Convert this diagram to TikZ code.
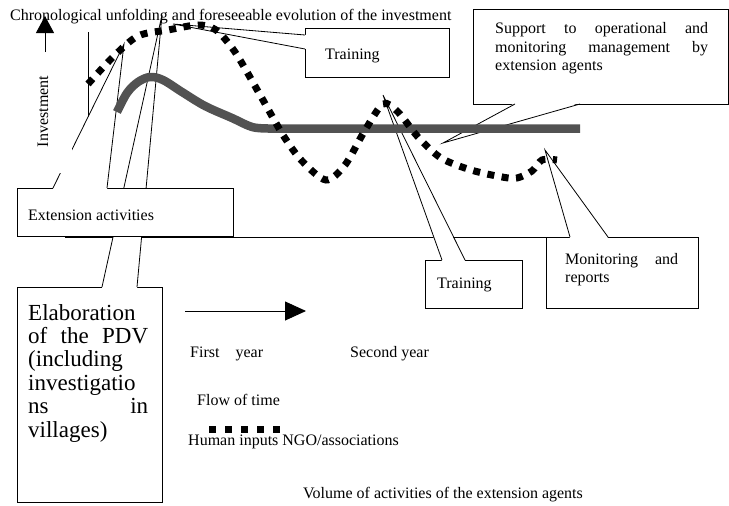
\documentclass[tikz,border=0pt]{standalone}
\usepackage{fontspec}
\setmainfont{Liberation Serif}
\usepackage{tikz}
\usetikzlibrary{arrows.meta}
\tikzstyle{lbl} = [inner sep=0pt, font=\fontsize{16}{18}\selectfont]
\tikzstyle{callbox} = [draw=black, fill=white, line width=0.8pt, outer sep=0pt, inner sep=0pt, anchor=north west]
\tikzstyle{wedge} = [fill=white]
\tikzstyle{wedgeline} = [line width=0.8pt]
\tikzstyle{axisline} = [line width=0.8pt]
\tikzstyle{volline} = [line width=8.5pt, color=black!68, line join=round]
\tikzstyle{humanline} = [line width=7pt, dash pattern=on 7pt off 7.5pt]

\begin{document}
\begin{tikzpicture}[x=1pt, y=-1pt]
    \useasboundingbox (0,0) rectangle (729,506);

    \coordinate (yaxtop) at (88,32);
    \coordinate (orig) at (88,237.5);
    \coordinate (xaxleft) at (65,237.5);
    \coordinate (xaxright) at (546,237.5);
    \draw[axisline] (yaxtop) -- (orig);
    \draw[axisline] (xaxleft) -- (xaxright);

    \node[callbox, minimum width=145pt, minimum height=215pt] (pdvbox) at (17,287) {};
    \coordinate (pdvtip) at (162,15);
    \fill[wedge] ([xshift=85pt,yshift=-1pt]pdvbox.north west) -- (pdvtip) -- ([xshift=120pt,yshift=-1pt]pdvbox.north west) -- cycle;
    \draw[wedgeline] ([xshift=85pt]pdvbox.north west) -- (pdvtip) -- ([xshift=120pt]pdvbox.north west);

    \node[callbox, minimum width=216pt, minimum height=48pt] (extbox) at (17,188) {};
    \coordinate (exttip) at (124,44);
    \fill[wedge] ([xshift=36pt,yshift=-1pt]extbox.north west) -- (exttip) -- ([xshift=90pt,yshift=-1pt]extbox.north west) -- cycle;
    \draw[wedgeline] ([xshift=36pt]extbox.north west) -- (exttip) -- ([xshift=90pt]extbox.north west);

    \node[lbl, rotate=90, fill=white, minimum width=123pt, minimum height=58pt] (invest) at (43,111.5) {Investment};
    \coordinate (upfoot) at (45,52);
    \coordinate (uphead) at (45,16);
    \draw[line width=0.9pt, -{Triangle[width=18pt,length=17pt]}] (upfoot) -- (uphead);

    \node[callbox, minimum width=144pt, minimum height=49pt] (trainbox) at (305,28) {};
    \coordinate (traintip) at (173,24);
    \fill[wedge] ([xshift=1pt,yshift=-7pt]trainbox.north west) -- (traintip) -- ([xshift=1pt,yshift=-21pt]trainbox.north west) -- cycle;
    \draw[wedgeline] ([yshift=-7pt]trainbox.north west) -- (traintip) -- ([yshift=-21pt]trainbox.north west);

    \node[callbox, minimum width=255pt, minimum height=95pt] (supbox) at (473,9) {};
    \coordinate (suptip) at (443,143);
    \fill[wedge] ([xshift=42pt,yshift=1pt]supbox.south west) -- (suptip) -- ([xshift=107pt,yshift=1pt]supbox.south west) -- cycle;
    \draw[wedgeline] ([xshift=42pt]supbox.south west) -- (suptip) -- ([xshift=107pt]supbox.south west);

    \node[callbox, minimum width=97pt, minimum height=48pt] (trainbox2) at (425,260) {};
    \coordinate (traintip2) at (383,95);
    \fill[wedge] ([xshift=17pt,yshift=-1pt]trainbox2.north west) -- (traintip2) -- ([xshift=40pt,yshift=-1pt]trainbox2.north west) -- cycle;
    \draw[wedgeline] ([xshift=17pt]trainbox2.north west) -- (traintip2) -- ([xshift=40pt]trainbox2.north west);

    \node[callbox, minimum width=152pt, minimum height=71pt] (monbox) at (546,237) {};
    \coordinate (montip) at (545,150);
    \fill[wedge] ([xshift=24pt,yshift=-1pt]monbox.north west) -- (montip) -- ([xshift=62pt,yshift=-1pt]monbox.north west) -- cycle;
    \draw[wedgeline] ([xshift=24pt]monbox.north west) -- (montip) -- ([xshift=62pt]monbox.north west);

    \draw[volline] plot[smooth, tension=0.55] coordinates {(117,112) (127,93) (138,82) (150,77) (163,80) (182,92) (205,106) (232,118) (252,127) (268,128.5)} -- (580,128.5);
    \draw[humanline] plot[smooth, tension=0.5] coordinates {(88,84) (113,57) (138,36) (168,30) (198,25) (216,30) (235,52) (259,93) (283,135) (302,161) (326,180) (345,165) (364,132) (383,104) (398,112) (418,137) (441,158) (471,170) (502,177) (517,178) (532,171) (542,160) (557,160)};

    \node[lbl, anchor=base west] (title) at (10,20.5) {Chronological unfolding and foreseeable evolution of the investment};
    \node[lbl, anchor=base west] (traintxt) at (325,59) {Training};
    \node[lbl, anchor=base west, text width=213pt, align=left] (suptxt) at (495,34) {Support\hfill to\hfill operational\hfill and\\ monitoring\hfill management\hfill by\\ extension agents};
    \node[lbl, anchor=base west] (exttxt) at (28,220) {Extension activities};
    \node[lbl, anchor=base west] (traintxt2) at (437,288) {Training};
    \node[lbl, anchor=base west, text width=113pt, align=left] (montxt) at (565,264) {Monitoring\hfill and\\ reports};
    \node[inner sep=0pt, anchor=base west, text width=120pt, align=left, font=\fontsize{23}{23.4}\selectfont] (pdvtxt) at (28,320) {Elaboration\\ of\hfill the\hfill PDV\\ (including\\ investigatio\\ ns\hfill in\\ villages)};

    \coordinate (tstart) at (185,311);
    \coordinate (tend) at (306,311);
    \draw[line width=0.9pt, -{Triangle[width=19pt,length=21pt]}] (tstart) -- (tend);
    \node[lbl, anchor=base west] (yr1) at (190,357) {First\quad year};
    \node[lbl, anchor=base west] (yr2) at (350,357) {Second year};
    \node[lbl, anchor=base west] (flow) at (197,405) {Flow of time};
    \coordinate (legleft) at (209,429.5);
    \coordinate (legright) at (281,429.5);
    \draw[humanline, dash pattern=on 7pt off 9pt] (legleft) -- (legright);
    \node[lbl, anchor=base west] (humtxt) at (188,445.5) {Human inputs NGO/associations};
    \node[lbl, anchor=base west] (voltxt) at (303,498) {Volume of activities of the extension agents};
\end{tikzpicture}
\end{document}
